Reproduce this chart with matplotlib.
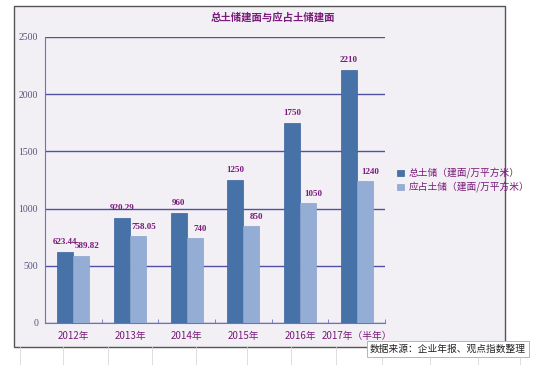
import numpy as np
import matplotlib.pyplot as plt
from matplotlib.patches import Rectangle

plt.rcParams['font.family'] = ['Noto Sans CJK SC', 'DejaVu Sans']

years = ['2012年', '2013年', '2014年', '2015年', '2016年', '2017年（半年）']
total = [623.44, 920.29, 960, 1250, 1750, 2210]
occupied = [589.82, 758.05, 740, 850, 1050, 1240]
total_labels = ['623.44', '920.29', '960', '1250', '1750', '2210']
occupied_labels = ['589.82', '758.05', '740', '850', '1050', '1240']
series_names = ['总土储（建面/万平方米）', '应占土储（建面/万平方米）']
yticks = [0, 500, 1000, 1500, 2000, 2500]

dark = '#4672A8'
light = '#94ADD4'
purple = '#7A1A7A'
bg = '#F2F0F5'

fig = plt.figure(figsize=(5.5, 3.65), dpi=100)
fig.patch.set_facecolor('white')

# faint spreadsheet grid under the chart
for xv in [20, 63, 108, 152, 196, 247, 291, 336, 382, 430, 478, 520]:
    fig.add_artist(plt.Line2D([xv / 550, xv / 550], [0, 18 / 365], color='#D8D8D8', lw=0.6))

# chart frame
fig.add_artist(Rectangle((14 / 550, 1 - 347 / 365), 491 / 550, 341 / 365,
                         facecolor=bg, edgecolor='#555555', lw=1.0, zorder=0))

ax = fig.add_axes([45 / 550, 1 - 323 / 365, 340 / 550, 286 / 365])
ax.set_facecolor(bg)
x = np.arange(len(years))
w = 0.28
b1 = ax.bar(x - w / 2, total, w, color=dark, edgecolor='#3A62A0', lw=0.5, label=series_names[0], zorder=3)
b2 = ax.bar(x + w / 2, occupied, w, color=light, edgecolor='#8AA4CC', lw=0.5, label=series_names[1], zorder=3)

for i in range(len(years)):
    ax.text(x[i] - w / 2, total[i] + 50, total_labels[i], ha='center', va='bottom',
            fontsize=6.5, color=purple, fontweight='bold', family='Liberation Serif')
    ax.text(x[i] + w / 2 + 0.1, occupied[i] + 45, occupied_labels[i], ha='center', va='bottom',
            fontsize=6.5, color=purple, fontweight='bold', family='Liberation Serif')

ax.set_xlim(-0.5, len(years) - 0.5)
ax.set_ylim(0, 2500)
ax.set_yticks(yticks)
ax.set_yticklabels([str(v) for v in yticks], fontsize=7, color='#555577', family='Liberation Serif')
ax.yaxis.grid(True, color='#5050A8', lw=1.0, zorder=1)
ax.tick_params(axis='y', length=0, pad=5)
ax.set_xticks(x)
ax.set_xticklabels(years, fontsize=7, color=purple)
ax.tick_params(axis='x', length=0, pad=6)
ax.set_xticks(np.arange(-0.5, len(years)), minor=True)
ax.tick_params(axis='x', which='minor', direction='in', length=3, color='#7070C0')
for s in ['top', 'right']:
    ax.spines[s].set_visible(False)
ax.spines['left'].set_color('#7070C0')
ax.spines['bottom'].set_color('#7070C0')

fig.text(273 / 550, 1 - 18 / 365, '总土储建面与应占土储建面', ha='center', va='center',
         fontsize=7.5, color=purple, fontweight='bold')

fig.legend(handles=[b1, b2], loc='upper left', bbox_to_anchor=(393 / 550, 1 - 164 / 365),
           frameon=False, fontsize=7, labelcolor=purple, handlelength=0.7, handleheight=0.7,
           handletextpad=0.5, labelspacing=0.3, borderaxespad=0)

fig.text(370 / 550, 1 - 349 / 365, '数据来源：企业年报、观点指数整理', ha='left', va='center',
         fontsize=7, color='#222222',
         bbox=dict(boxstyle='square,pad=0.35', facecolor='white', edgecolor='#AAAAAA', lw=0.6))

fig.savefig('out.png', dpi=100)
